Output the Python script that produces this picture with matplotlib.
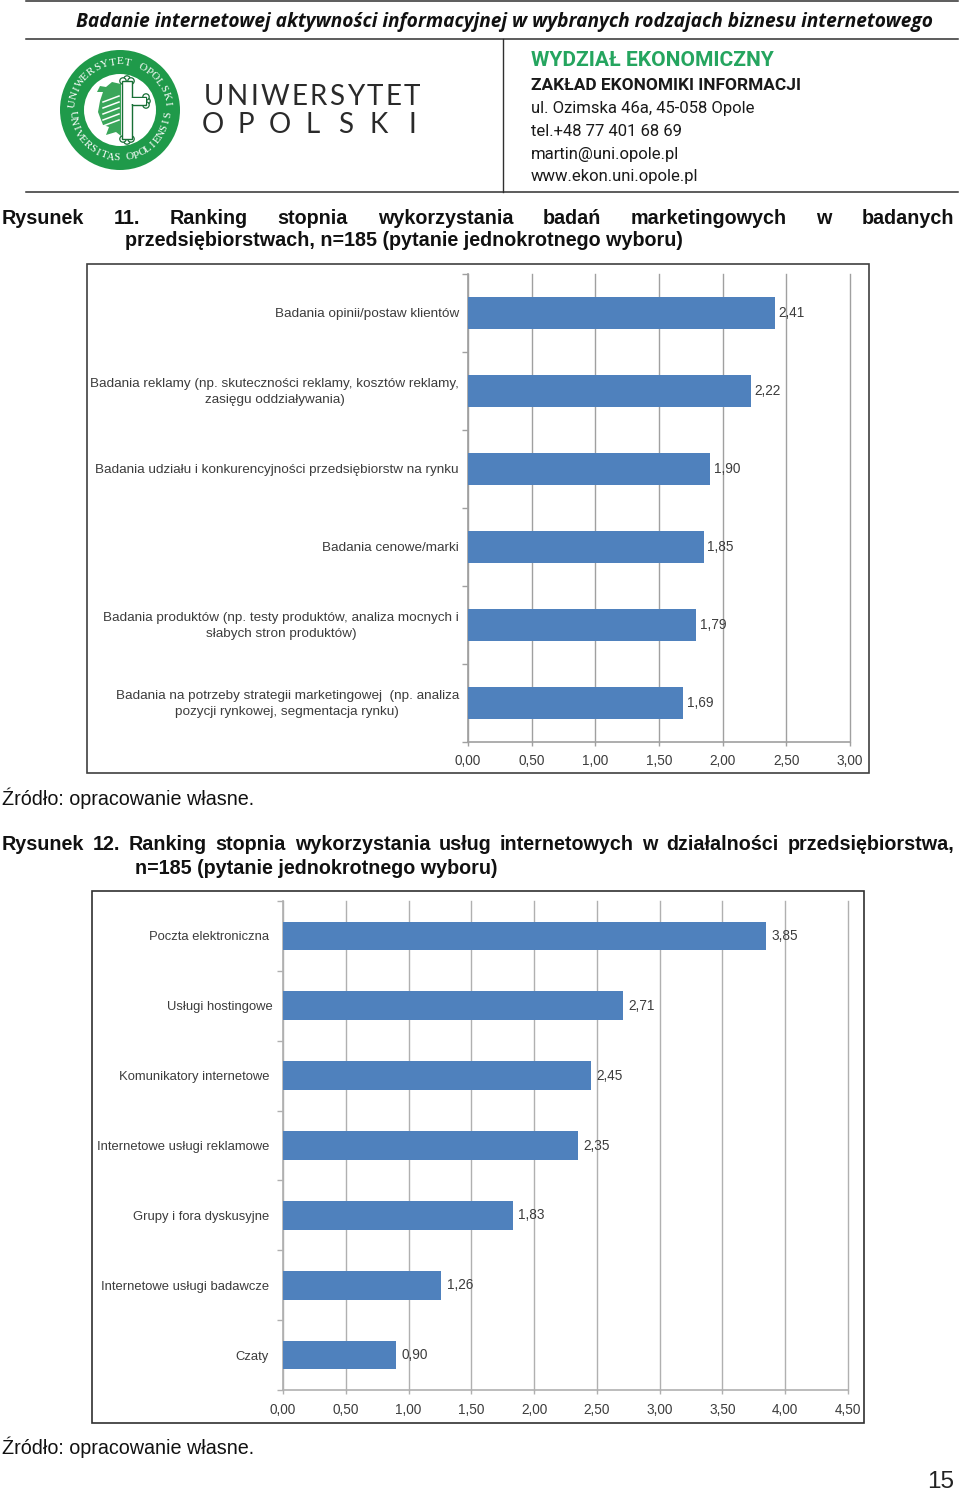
import numpy as np
import matplotlib
matplotlib.use("Agg")
import matplotlib.pyplot as plt
import matplotlib.patches as mpatches
from matplotlib.ticker import FixedLocator
from matplotlib.transforms import ScaledTranslation

fig_w = 960
fig_h = 1495

labels_11 = ["Badania opinii/postaw klientów",
             "Badania reklamy (np. skuteczności reklamy, kosztów reklamy,\nzasięgu oddziaływania)",
             "Badania udziału i konkurencyjności przedsiębiorstw na rynku",
             "Badania cenowe/marki",
             "Badania produktów (np. testy produktów, analiza mocnych i\nsłabych stron produktów)",
             "Badania na potrzeby strategii marketingowej  (np. analiza\npozycji rynkowej, segmentacja rynku)"]
values_11 = [2.41, 2.22, 1.90, 1.85, 1.79, 1.69]
ticks_11 = [0, 0.5, 1, 1.5, 2, 2.5, 3]

labels_12 = ["Poczta elektroniczna", "Usługi hostingowe", "Komunikatory internetowe",
             "Internetowe usługi reklamowe", "Grupy i fora dyskusyjne",
             "Internetowe usługi badawcze", "Czaty"]
values_12 = [3.85, 2.71, 2.45, 2.35, 1.83, 1.26, 0.90]
ticks_12 = [0, 0.5, 1, 1.5, 2, 2.5, 3, 3.5, 4, 4.5]

bar_color = "#4f81bd"
text_color = "#3c3c3c"
green = "#1f9a4a"

plt.rcParams["font.family"] = ["Liberation Sans", "DejaVu Sans"]

fig = plt.figure(figsize=(fig_w / 100, fig_h / 100), dpi=100)

# page layer in pixel coordinates
page = fig.add_axes([0, 0, 1, 1])
page.set_xlim(0, fig_w)
page.set_ylim(fig_h, 0)
page.axis("off")


def spaced(ax, letters, x0, x1, y, **kw):
    xs = np.linspace(x0, x1, len(letters))
    for x, c in zip(xs, letters):
        ax.text(x, y, c, ha="center", va="center", **kw)


def justified(ax, words, x0, x1, y, **kw):
    # same gap between all words, like a justified line in the document
    r = fig.canvas.get_renderer()
    items = [ax.text(0, y, w, va="center", **kw) for w in words]
    widths = [t.get_window_extent(r).width for t in items]
    gap = (x1 - x0 - sum(widths)) / (len(words) - 1)
    x = x0
    for t, w in zip(items, widths):
        t.set_x(x)
        x += w + gap


def ring_text(ax, s, cx, cy, r, a0, a1, **kw):
    for a, c in zip(np.linspace(a0, a1, len(s)), s):
        rad = np.radians(a)
        x = cx + r * np.cos(rad)
        y = cy - r * np.sin(rad)
        rot = a - 90 if 0 <= a <= 180 else a + 90
        ax.text(x, y, c, rotation=rot, rotation_mode="anchor", ha="center", va="center", **kw)


# header
for y in (1, 39, 192):
    page.plot([26, 958], [y, y], color="#303030", lw=1.1)
page.plot([503, 503], [39, 192], color="#303030", lw=1)
page.text(505, 21.5, "Badanie internetowej aktywności informacyjnej w wybranych rodzajach biznesu internetowego",
          ha="center", va="center", family="Open Sans", style="italic", weight="bold", fontsize=13.8, color="#111111")

# logo
cx, cy = 120, 110
page.add_patch(mpatches.Circle((cx, cy), 60, color=green, lw=0))
page.add_patch(mpatches.Circle((cx, cy), 36, color="white", lw=0))
ring_text(page, "UNIWERSYTET OPOLSKI", cx, cy, 48, 172, 8, fontsize=8, color="white", family="Liberation Serif")
ring_text(page, "UNIVERSITAS OPOLIENSIS", cx, cy, 48, 186, 354, fontsize=8, color="white", family="Liberation Serif")
# eagle, half of it, on the left of the cross
eagle = [(121, 84), (112, 82), (106, 87), (100, 86), (97, 92), (103, 92), (100, 101), (98, 112),
         (103, 125), (109, 127), (106, 135), (116, 132), (121, 136)]
page.add_patch(mpatches.Polygon(eagle, closed=True, color="#3aa65a", lw=0))
for i in range(5):
    page.plot([103, 119], [102 + i * 6, 96 + i * 6], color="white", lw=1.1)
# cross with trefoil ends
for c in [(127, 79), (127, 141), (147, 101), (123, 81), (131, 81), (123, 139), (131, 139), (146, 97), (146, 105)]:
    page.add_patch(mpatches.Circle(c, 3.2, fc="white", ec="#176f35", lw=0.9))
page.add_patch(mpatches.Rectangle((122, 81), 10, 58, fc="white", ec="#176f35", lw=1))
page.add_patch(mpatches.Rectangle((132, 97), 14, 8, fc="white", ec="#176f35", lw=1))
page.add_patch(mpatches.Rectangle((131, 98), 15, 6, fc="white", lw=0))

justified(page, list("UNIWERSYTET"), 204, 420, 97, fontsize=20, family="Lato", color="#2a2a2a")
spaced(page, "OPOLSKI", 213, 412, 125, fontsize=20, family="Lato", color="#2a2a2a")

page.text(531, 60, "WYDZIAŁ EKONOMICZNY", va="center", family="Roboto", weight="bold", fontsize=15.1, color="#25a55f")
page.text(531, 85, "ZAKŁAD EKONOMIKI INFORMACJI", va="center", family="Roboto", weight="bold", fontsize=12.4, color="#1a1a1a")
for y, line in zip([108, 131, 154, 177], ["ul. Ozimska 46a, 45-058 Opole", "tel.+48 77 401 68 69",
                                           "martin@uni.opole.pl", "www.ekon.uni.opole.pl"]):
    page.text(531, y, line, va="center", family="Roboto", fontsize=12, color="#1a1a1a")

# captions
cap = dict(weight="bold", fontsize=14.25, color="#111111")
justified(page, "Rysunek 11. Ranking stopnia wykorzystania badań marketingowych w badanych".split(),
          2, 954, 218, **cap)
page.text(125, 241, "przedsiębiorstwach, n=185 (pytanie jednokrotnego wyboru)", va="center", **cap)
justified(page, "Rysunek 12. Ranking stopnia wykorzystania usług internetowych w działalności przedsiębiorstwa,".split(),
          2, 954, 845, **cap)
page.text(135, 868, "n=185 (pytanie jednokrotnego wyboru)", va="center", **cap)
for y in (798, 1447):
    page.text(2, y, "Źródło: opracowanie własne.", va="center", fontsize=14.2, color="#111111")
page.text(954, 1482, "15", ha="right", va="center", fontsize=17.5, color="#222222")

# chart frames
page.add_patch(mpatches.Rectangle((87, 264), 782, 509, fill=False, ec="#404040", lw=1.2))
page.add_patch(mpatches.Rectangle((92, 891), 772, 532, fill=False, ec="#303030", lw=1.2))


def bar_chart(box, labels, values, ticks, bar_h, pad, label_size, grid_color, value_offset):
    x0, x1, y0, y1 = box
    ax = fig.add_axes([x0 / fig_w, 1 - y1 / fig_h, (x1 - x0) / fig_w, (y1 - y0) / fig_h])
    ax.patch.set_alpha(0)
    pos = np.arange(len(values))
    ax.barh(pos, values, height=bar_h, color=bar_color, zorder=3)
    ax.set_ylim(len(values) - 0.5, -0.5)
    ax.set_xlim(ticks[0], ticks[-1])
    ax.set_xticks(ticks)
    ax.set_xticklabels([f"{t:.2f}".replace(".", ",") for t in ticks], fontsize=9.8, color=text_color)
    ax.set_yticks(pos)
    ax.set_yticklabels(labels, fontsize=label_size, color=text_color, multialignment="center", linespacing=1.4)
    ax.yaxis.set_minor_locator(FixedLocator(np.arange(len(values) + 1) - 0.5))
    ax.tick_params(axis="y", which="major", length=0, pad=pad)
    ax.tick_params(axis="y", which="minor", length=4, width=1, color=grid_color)
    ax.tick_params(axis="x", length=3, width=1, color=grid_color, pad=6)
    ax.grid(axis="x", color=grid_color, lw=1, zorder=1)
    for line in ax.get_xgridlines():
        line.set_clip_on(False)
    ax.set_axisbelow(True)
    for side in ("top", "right"):
        ax.spines[side].set_visible(False)
    for side in ("left", "bottom"):
        ax.spines[side].set_color(grid_color)
        ax.spines[side].set_linewidth(1.2)
    for p, v in zip(pos, values):
        ax.annotate(f"{v:.2f}".replace(".", ","), (v, p), xytext=(value_offset, 0), textcoords="offset points",
                    va="center", fontsize=9.8, color=text_color, zorder=5)
    # two line labels come out a little low
    for t in ax.get_yticklabels():
        if "\n" in t.get_text():
            t.set_transform(t.get_transform() + ScaledTranslation(0, 2 / 100, fig.dpi_scale_trans))
    return ax


bar_chart((468, 850, 274, 742), labels_11, values_11, ticks_11, 0.40, 6.5, 9.7, "#a0a0a0", 2.8)
ax12 = bar_chart((283, 848, 901, 1390), labels_12, values_12, ticks_12, 0.41, 10, 9.35, "#b0b0b0", 4)
# this one label sits closer to the axis in the source
hosting = ax12.get_yticklabels()[1]
hosting.set_x(hosting.get_position()[0] + 4 / (848 - 283))

fig.savefig("out.png", dpi=100)
